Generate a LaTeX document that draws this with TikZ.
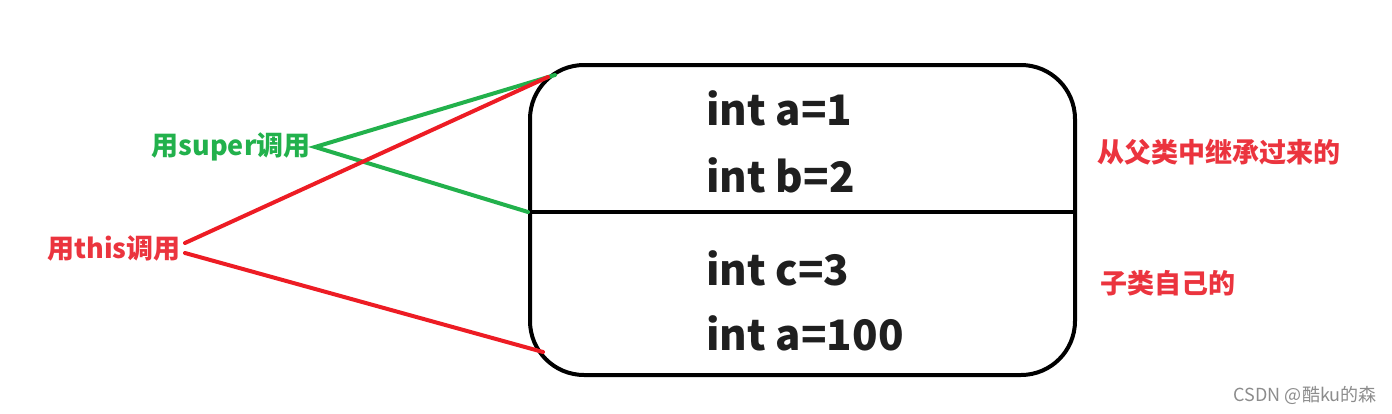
\documentclass[tikz,border=0pt]{standalone}
\usepackage{fontspec}
\setmainfont{Noto Sans CJK SC}
\definecolor{paintred}{RGB}{237,28,36}
\definecolor{paintgreen}{RGB}{34,177,76}
\definecolor{lblred}{RGB}{235,52,62}
\tikzset{
	boxline/.style={line width=2pt,black},
	fieldtxt/.style={anchor=base west,inner sep=0pt,font=\fontsize{21}{25}\selectfont\bfseries,text=black!88},
	calllbl/.style={inner sep=2pt,font=\fontsize{13.5}{16}\selectfont\bfseries},
	sidelbl/.style={anchor=west,inner sep=0pt,text=lblred,font=\fontsize{13.5}{16}\selectfont\bfseries},
	wire/.style={line width=2pt,line cap=round}
}
\begin{document}
\begin{tikzpicture}[x=0.5pt,y=-0.5pt]
				\useasboundingbox (0,0) rectangle (1392,413);
				\node[boxline,draw,rounded corners=27pt,minimum width=272.5pt,minimum height=155pt,inner sep=0pt] (box) at (802.5,220) {};
				\coordinate (div) at (0,212);
				\draw[boxline] (box.west |- div) -- (box.east |- div);
				\node[fieldtxt] (fa) at (706,125) {int a=1};
				\node[fieldtxt] (fb) at (706,192) {int b=2};
				\node[fieldtxt] (fc) at (706,285) {int c=3};
				\node[fieldtxt] (fd) at (706,350) {int a=100};
				\node[calllbl,text=paintgreen,anchor=east] (super) at (315,147) {用super调用};
				\node[calllbl,text=lblred,anchor=east] (this) at (185,248) {用this调用};
				\node[sidelbl] (inherit) at (1097,152) {从父类中继承过来的};
				\node[sidelbl] (own) at (1100,283) {子类自己的};
				\node[anchor=east,inner sep=0pt,text=black!45,font=\fontsize{9}{11}\selectfont] (mark) at (1377,395) {CSDN @酷ku的森};
				\coordinate (gtop) at (555,75);
				\coordinate (rtop) at (548,77);
				\coordinate (gmid) at (box.west |- div);
				\coordinate (rbot) at (543,352);
				\draw[wire,paintgreen] (gtop) -- (super.east) -- (gmid);
				\draw[wire,paintred] ([yshift=2.5pt]this.east) -- (rtop);
				\draw[wire,paintred] ([yshift=-2.5pt]this.east) -- (rbot);
\end{tikzpicture}
\end{document}
